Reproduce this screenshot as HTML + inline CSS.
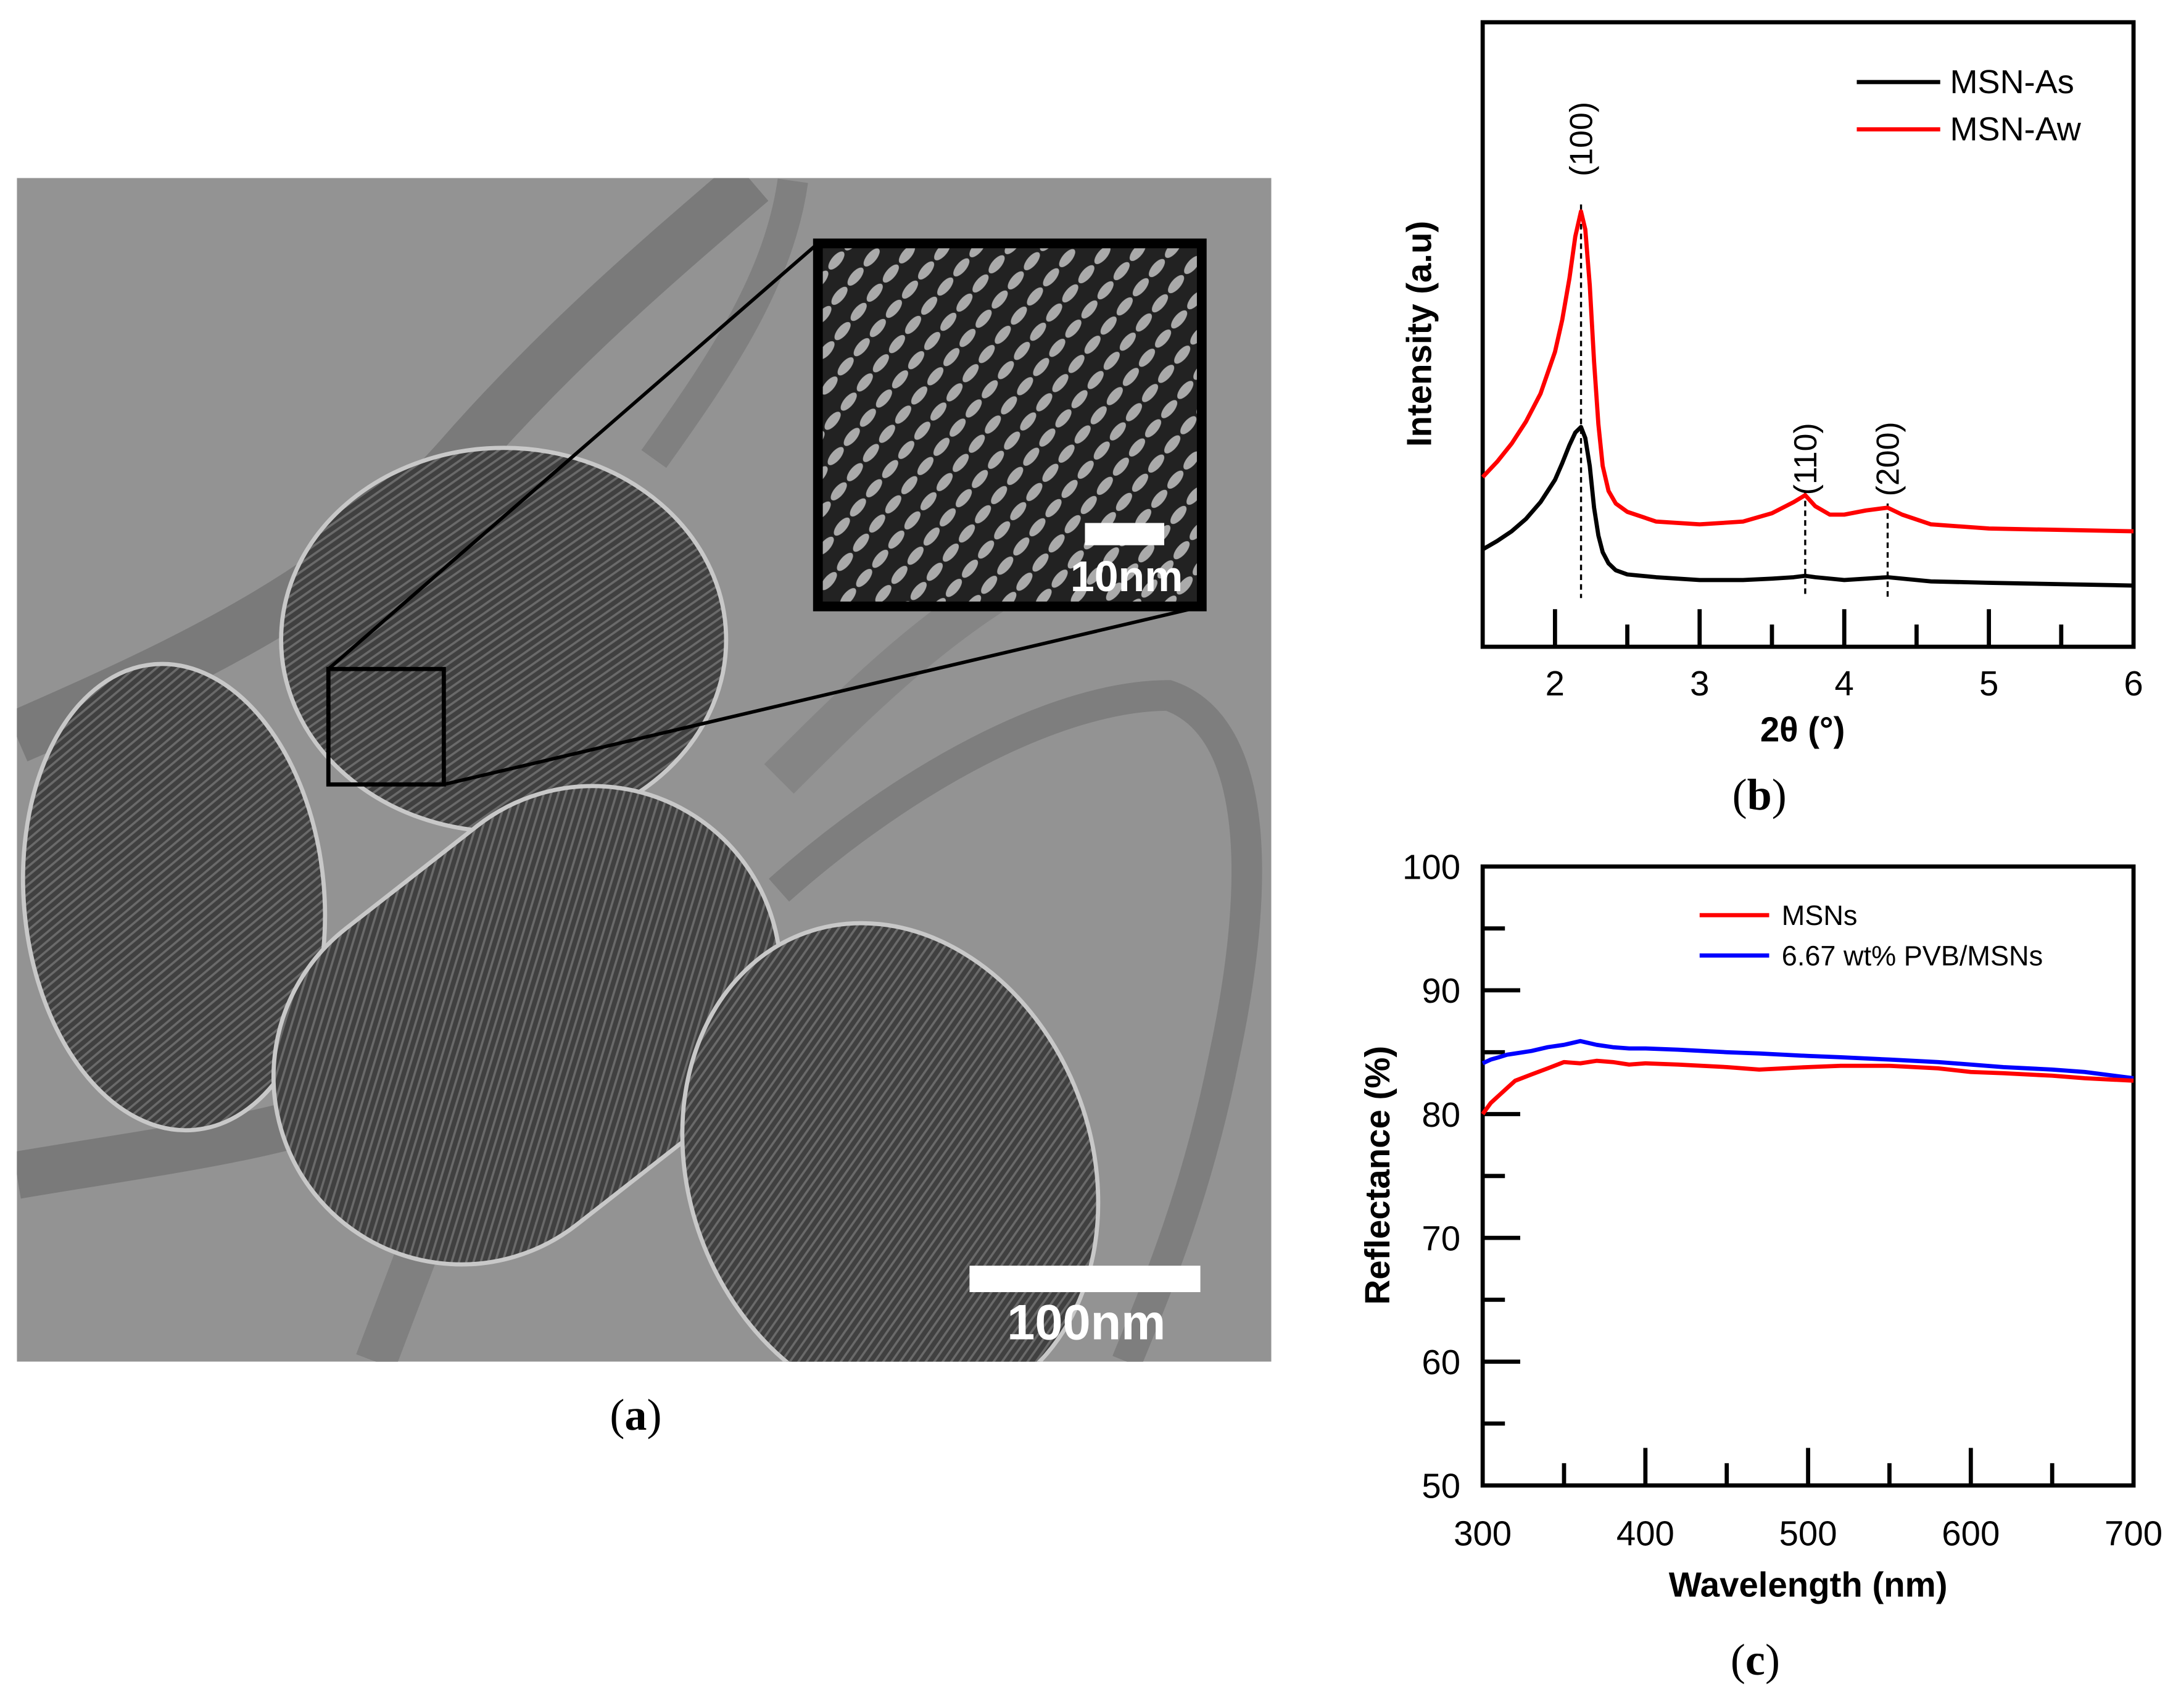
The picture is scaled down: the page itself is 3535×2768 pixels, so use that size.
<!DOCTYPE html>
<html><head><meta charset="utf-8"><style>
html,body{margin:0;padding:0;background:#fff}
svg{display:block}
text{font-family:"Liberation Sans",Arial,sans-serif}
.ser{font-family:"Liberation Serif",serif}
</style></head><body>
<svg id="fig" width="3535" height="2768" viewBox="0 0 1568 1228" xmlns="http://www.w3.org/2000/svg">
<defs>
<pattern id="pores" width="5" height="5" patternUnits="userSpaceOnUse" patternTransform="rotate(-35)">
<rect width="5" height="5" fill="#404040"/><rect width="5" height="1.6" fill="#6a6a6a"/></pattern>
<pattern id="insetp" width="18" height="18" patternUnits="userSpaceOnUse" patternTransform="rotate(-50)">
<rect width="18" height="18" fill="#222"/><ellipse cx="9" cy="5" rx="8" ry="3.5" fill="#aaa"/></pattern>
<clipPath id="temclip"><rect x="12" y="128" width="902" height="851"/></clipPath>
</defs>

<g clip-path="url(#temclip)">
<rect x="12" y="128" width="902" height="851" fill="#939393"/>
<path d="M12 530 C150 470 250 420 330 330 C400 250 470 190 540 130" stroke="#7a7a7a" stroke-width="38" fill="none"/>
<path d="M570 130 C560 200 520 260 470 330" stroke="#808080" stroke-width="22" fill="none"/>
<path d="M12 845 C100 830 180 820 240 800" stroke="#7a7a7a" stroke-width="34" fill="none"/>
<path d="M560 640 C650 560 760 500 840 500 C900 520 910 620 880 760 C860 860 830 930 810 979" stroke="#7e7e7e" stroke-width="22" fill="none"/>
<path d="M560 560 C620 500 680 440 760 400" stroke="#858585" stroke-width="30" fill="none"/>
<path d="M270 979 L300 900" stroke="#808080" stroke-width="30" fill="none"/>
<ellipse cx="362" cy="460" rx="160" ry="138" fill="url(#pores)" stroke="#c8c8c8" stroke-width="3"/>
<ellipse cx="125" cy="645" rx="108" ry="168" transform="rotate(-5 125 645)" fill="url(#pores)" stroke="#c8c8c8" stroke-width="3"/>
<rect x="190" y="600" width="390" height="270" rx="135" transform="rotate(-38 385 745)" fill="url(#pores)" stroke="#c8c8c8" stroke-width="3"/>
<ellipse cx="640" cy="840" rx="145" ry="180" transform="rotate(-20 640 840)" fill="url(#pores)" stroke="#c8c8c8" stroke-width="3"/>
<rect x="236" y="481" width="83" height="83" fill="none" stroke="#000" stroke-width="3"/>
<line x1="236" y1="481" x2="588" y2="175" stroke="#000" stroke-width="2.5"/>
<line x1="319" y1="564" x2="864" y2="436" stroke="#000" stroke-width="2.5"/>
<rect x="588" y="175" width="276" height="261" fill="url(#insetp)" stroke="#000" stroke-width="7"/>
<rect x="780" y="376" width="57" height="16" fill="#fff"/>
<text x="810" y="425" font-size="31" font-weight="bold" fill="#fff" text-anchor="middle">10nm</text>
<rect x="697" y="910" width="166" height="19" fill="#fff"/>
<text x="781" y="963" font-size="36" font-weight="bold" fill="#fff" text-anchor="middle">100nm</text>
</g>
<text x="457" y="1028" class="ser" font-size="32" text-anchor="middle">(<tspan font-weight="bold">a</tspan>)</text>

<g id="chartB"></g>
<g id="chartC"></g>

<text x="1265" y="582" class="ser" font-size="32" text-anchor="middle">(<tspan font-weight="bold">b</tspan>)</text>
<text x="1262" y="1204" class="ser" font-size="32" text-anchor="middle">(<tspan font-weight="bold">c</tspan>)</text>
</svg>
<script>
// ---- Chart B data (XRD) ----
const xrdAngles = [1.5,1.6,1.7,1.8,1.9,2.0,2.05,2.1,2.14,2.18,2.21,2.24,2.27,2.3,2.33,2.37,2.42,2.5,2.7,3.0,3.3,3.5,3.65,3.73,3.8,3.9,4.0,4.15,4.3,4.4,4.6,5.0,5.5,6.0];
const xrdAw = [122,133,146,162,182,212,235,265,295,313,300,260,205,160,130,112,103,97,90,88,90,96,104,109,101,95,95,98,100,95,88,85,84,83];
const xrdAs = [70,76,83,92,104,120,132,145,154,158,150,130,100,80,68,60,55,52,50,48,48,49,50,51,50,49,48,49,50,49,47,46,45,44];
const xrdTicks = [2,3,4,5,6];
const xrdPeaks = [2.18,3.73,4.3];
const xrdPeakLabels = ["(100)","(110)","(200)"];
const xrdPeakLabelY = [100,330,330];
// ---- Chart C data (reflectance) ----
const wl = [300,305,310,315,320,330,340,350,360,370,380,390,400,420,450,470,500,520,550,580,600,620,650,670,700];
const reflMSN = [80,80.9,81.5,82.1,82.7,83.2,83.7,84.2,84.1,84.3,84.2,84.0,84.1,84.0,83.8,83.6,83.8,83.9,83.9,83.7,83.4,83.3,83.1,82.9,82.7];
const reflPVB = [84.1,84.4,84.6,84.8,84.9,85.1,85.4,85.6,85.9,85.6,85.4,85.3,85.3,85.2,85.0,84.9,84.7,84.6,84.4,84.2,84.0,83.8,83.6,83.4,82.9];
const cXTicks = [300,400,500,600,700];
const cYTicks = [50,60,70,80,90,100];

const NS="http://www.w3.org/2000/svg";
function mk(tag, attrs, parent){const e=document.createElementNS(NS,tag);for(const k in attrs)e.setAttribute(k,attrs[k]);parent.appendChild(e);return e;}

(function(){
const g=document.getElementById('chartB');
const L=1066,R=1534,T=16,B=465;
const xs=v=>L+(v-1.5)/4.5*(R-L);
const ys=v=>B-v;
let f=mk('rect',{x:L,y:T,width:R-L,height:B-T,fill:'none',stroke:'#000','stroke-width':3},g);


for(let v=2;v<=5.5;v+=0.5){const maj=Number.isInteger(v);
 const t=mk('line',{x1:xs(v),x2:xs(v),y1:B,y2:B-(maj?27:16),stroke:'#000','stroke-width':3},g);
 
 }
xrdTicks.forEach(v=>{const t=mk('text',{x:xs(v),y:500,'font-size':25,'text-anchor':'middle'},g);t.textContent=v;
 
 });
xrdPeaks.forEach((p,i)=>{
 const d=mk('line',{x1:xs(p),x2:xs(p),y1:i==0?ys(318):ys(i==1?112:103),y2:430,stroke:'#000','stroke-width':1.5,'stroke-dasharray':'4,3'},g);
 
 
 const t=mk('text',{x:0,y:0,'font-size':23,'text-anchor':'middle',transform:`translate(${xs(p)+8},${xrdPeakLabelY[i]}) rotate(-90)`},g);
 t.textContent=xrdPeakLabels[i];
 
 });
function series(vals,color,name){const pts=xrdAngles.map((a,i)=>xs(a).toFixed(1)+','+ys(vals[i]).toFixed(1)).join(' ');
 const p=mk('polyline',{points:pts,fill:'none',stroke:color,'stroke-width':3,'stroke-linejoin':'round'},g);
 
 }
series(xrdAs,'#000','series-msn-as');
series(xrdAw,'#f00','series-msn-aw');
[['MSN-As','#000',59],['MSN-Aw','#f00',93]].forEach(([n,c,y])=>{
 const l=mk('line',{x1:1335,x2:1395,y1:y,y2:y,stroke:c,'stroke-width':3},g);
 
 
 const t=mk('text',{x:1402,y:y+8,'font-size':24},g);t.textContent=n;
 
 });
let yt=mk('text',{x:0,y:0,'font-size':25,'font-weight':'bold','text-anchor':'middle',transform:'translate(1029,240) rotate(-90)'},g);yt.textContent='Intensity (a.u)';


let xt=mk('text',{x:1296,y:533,'font-size':25,'font-weight':'bold','text-anchor':'middle'},g);xt.textContent='2θ (°)';


})();

(function(){
const g=document.getElementById('chartC');
const L=1066,R=1534,T=623,B=1068;
const xs=v=>L+(v-300)/400*(R-L);
const ys=v=>B-(v-50)/50*(B-T);
let f=mk('rect',{x:L,y:T,width:R-L,height:B-T,fill:'none',stroke:'#000','stroke-width':3},g);


for(let v=350;v<700;v+=50){const maj=v%100==0;
 const t=mk('line',{x1:xs(v),x2:xs(v),y1:B,y2:B-(maj?27:16),stroke:'#000','stroke-width':3},g);
 
 }
for(let v=55;v<100;v+=5){const maj=v%10==0;
 const t=mk('line',{x1:L,x2:L+(maj?27:16),y1:ys(v),y2:ys(v),stroke:'#000','stroke-width':3},g);
 
 }
cXTicks.forEach(v=>{const t=mk('text',{x:xs(v),y:1111,'font-size':25,'text-anchor':'middle'},g);t.textContent=v;
 
 });
cYTicks.forEach(v=>{const t=mk('text',{x:1050,y:ys(v)+9,'font-size':25,'text-anchor':'end'},g);t.textContent=v;
 
 });
function series(vals,color,name){const pts=wl.map((a,i)=>xs(a).toFixed(1)+','+ys(vals[i]).toFixed(1)).join(' ');
 const p=mk('polyline',{points:pts,fill:'none',stroke:color,'stroke-width':3,'stroke-linejoin':'round'},g);
 
 }
series(reflPVB,'#00f','series-pvb-msns');
series(reflMSN,'#f00','series-msns');
[['MSNs','#f00',658],['6.67 wt% PVB/MSNs','#00f',687]].forEach(([n,c,y])=>{
 const l=mk('line',{x1:1222,x2:1272,y1:y,y2:y,stroke:c,'stroke-width':3},g);
 
 
 const t=mk('text',{x:1281,y:y+7,'font-size':20},g);t.textContent=n;
 
 });
let yt=mk('text',{x:0,y:0,'font-size':25,'font-weight':'bold','text-anchor':'middle',transform:'translate(999,845) rotate(-90)'},g);yt.textContent='Reflectance (%)';


let xt=mk('text',{x:1300,y:1148,'font-size':25,'font-weight':'bold','text-anchor':'middle'},g);xt.textContent='Wavelength (nm)';


})();
</script>
</body></html>
